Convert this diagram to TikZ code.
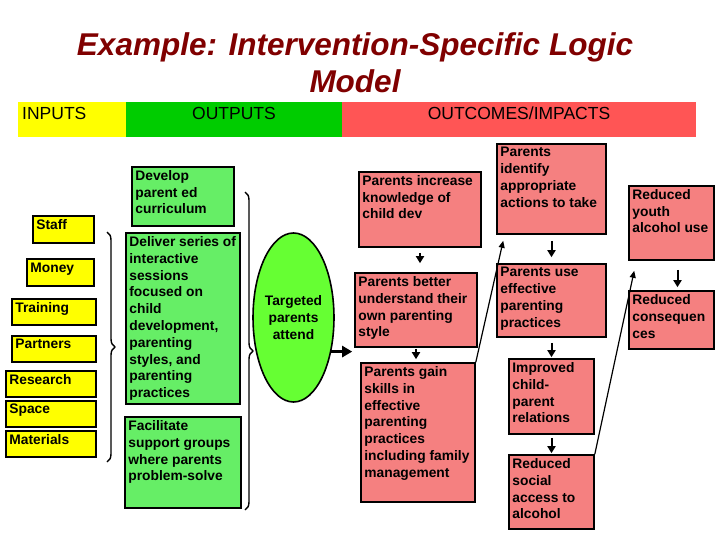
\documentclass[tikz,border=0pt]{standalone}
\usepackage{fontspec}
\setmainfont{Liberation Sans}
\usetikzlibrary{arrows.meta, shapes.geometric, decorations.pathreplacing}

\definecolor{titlered}{RGB}{128,0,0}
\definecolor{baryellow}{RGB}{255,255,0}
\definecolor{bargreen}{RGB}{0,204,0}
\definecolor{barred}{RGB}{255,85,85}
\definecolor{boxyellow}{RGB}{255,255,0}
\definecolor{boxgreen}{RGB}{102,238,102}
\definecolor{boxred}{RGB}{245,128,128}
\definecolor{ovalgreen}{RGB}{102,255,51}

\tikzset{
  ttl/.style={font=\bfseries\itshape\fontsize{31.5}{38}\selectfont, text=titlered, anchor=base, inner sep=0pt},
  hdr/.style={font=\fontsize{17.5}{21}\selectfont, inner sep=0pt},
  inbox/.style={draw, line width=1.6pt, fill=boxyellow, inner sep=0pt},
  outbox/.style={draw, line width=1.6pt, fill=boxgreen, inner sep=0pt},
  resbox/.style={draw, line width=1.6pt, fill=boxred, inner sep=0pt},
  boxtxt/.style={font=\bfseries\fontsize{13.8}{16.8}\selectfont, align=left, anchor=north west, inner sep=4pt},
  oval/.style={ellipse, draw, line width=1.6pt, fill=ovalgreen, minimum width=73pt, minimum height=169pt, inner sep=0pt, align=center, font=\bfseries\fontsize{13.8}{16.8}\selectfont},
  sarrow/.style={line width=2pt, -{Triangle[length=7pt,width=8pt]}},
  tarrow/.style={line width=1.2pt, -{Triangle[length=7pt,width=6pt]}},
  bigarrow/.style={line width=3.5pt, -{Triangle[length=10pt,width=11pt]}},
  brc/.style={line width=1.4pt, decorate, decoration={brace, amplitude=8pt}}
}

\begin{document}
\begin{tikzpicture}[x=1pt, y=-1pt]
\useasboundingbox (0,0) rectangle (720,540);
% title
\node[ttl] (title1) at (355,56) {Example: Intervention-Specific Logic};
\node[ttl] (title2) at (355,93) {Model};
% column headings
\fill[baryellow] (18,102) rectangle (126,137);
\fill[bargreen] (126,102) rectangle (342,137);
\fill[barred] (342,102) rectangle (696,137);
\node[hdr, anchor=base west] (hin) at (22,119.5) {INPUTS};
\node[hdr, anchor=base] (hout) at (234,119.5) {OUTPUTS};
\node[hdr, anchor=base] (hres) at (519,119.5) {OUTCOMES/IMPACTS};
% inputs
\foreach \nm/\txt/\cx/\cy/\w in {staff/Staff/63.5/229.5/61, money/Money/60.5/272.5/67,
  training/Training/54/312/84, partners/Partners/54/349/84, research/Research/51/384/90,
  space/Space/51/414/90, materials/Materials/51/444/90} {
\node[inbox, minimum width=\w, minimum height=26.5, label={[boxtxt]north west:\txt}] (\nm) at (\cx,\cy) {};
}
\draw[brc] (107,232) -- (107,462);
% outputs
\node[outbox, minimum width=102, minimum height=59,
  label={[boxtxt]north west:{Develop\\parent ed\\curriculum}}] (develop) at (183,196.5) {};
\node[outbox, minimum width=114, minimum height=171,
  label={[boxtxt]north west:{Deliver series of\\interactive\\sessions\\focused on\\child\\development,\\parenting\\styles, and\\parenting\\practices}}] (deliver) at (183,318.5) {};
\node[outbox, minimum width=116, minimum height=91,
  label={[boxtxt]north west:{Facilitate\\support groups\\where parents\\problem-solve}}] (support) at (183,462.5) {};
\draw[brc] (245,192) -- (245,510);
% participation
\node[oval] (attend) at (293.5,317.5) {Targeted\\parents\\attend};
% short term outcomes
\node[resbox, minimum width=122, minimum height=75,
  label={[boxtxt]north west:{Parents increase\\knowledge of\\child dev}}] (r1) at (420,209.5) {};
\node[resbox, minimum width=122, minimum height=74,
  label={[boxtxt]north west:{Parents better\\understand their\\own parenting\\style}}] (r2) at (416,310) {};
\node[resbox, minimum width=114, minimum height=139,
  label={[boxtxt]north west:{Parents gain\\skills in\\effective\\parenting\\practices\\including family\\management}}] (r3) at (418,432.5) {};
% medium term outcomes
\node[resbox, minimum width=109, minimum height=90,
  label={[boxtxt]north west:{Parents\\identify\\appropriate\\actions to take}}] (r4) at (551.5,189) {};
\node[resbox, minimum width=109, minimum height=73,
  label={[boxtxt]north west:{Parents use\\effective\\parenting\\practices}}] (r5) at (551.5,300.5) {};
\node[resbox, minimum width=85, minimum height=75,
  label={[boxtxt]north west:{Improved\\child-\\parent\\relations}}] (r6) at (551.5,396.5) {};
\node[resbox, minimum width=85, minimum height=74,
  label={[boxtxt]north west:{Reduced\\social\\access to\\alcohol}}] (r7) at (551.5,492) {};
% long term outcomes
\node[resbox, minimum width=85, minimum height=74,
  label={[boxtxt]north west:{Reduced\\youth\\alcohol use}}] (r8) at (671.5,223) {};
\node[resbox, minimum width=85, minimum height=58,
  label={[boxtxt]north west:{Reduced\\consequen\\ces}}] (r9) at (671.5,320) {};
% arrows
\draw[bigarrow, shorten >=2pt] (attend.-42) -- (attend.-42 -| r2.west);
\draw[sarrow, shorten <=5pt, shorten >=9pt] (r1.south) -- (r1.south |- r2.north);
\draw[sarrow, shorten <=1pt, shorten >=3pt] (r2.south) -- (r2.south |- r3.north);
\draw[sarrow, shorten <=6pt, shorten >=6pt] (r4.south) -- (r4.south |- r5.north);
\draw[sarrow, shorten <=5pt, shorten >=1pt] (r5.south) -- (r5.south |- r6.north);
\draw[sarrow, shorten <=3pt, shorten >=1pt] (r6.south) -- (r6.south |- r7.north);
\draw[sarrow, shorten <=9pt, shorten >=3pt] ([xshift=6pt]r8.south) -- ([xshift=6pt]r8.south |- r9.north);
\draw[tarrow] (r3.north east) -- ([shift={(7,6)}]r4.south west);
\draw[tarrow] (r7.north east) -- ([shift={(6,10)}]r8.south west);
\end{tikzpicture}
\end{document}
